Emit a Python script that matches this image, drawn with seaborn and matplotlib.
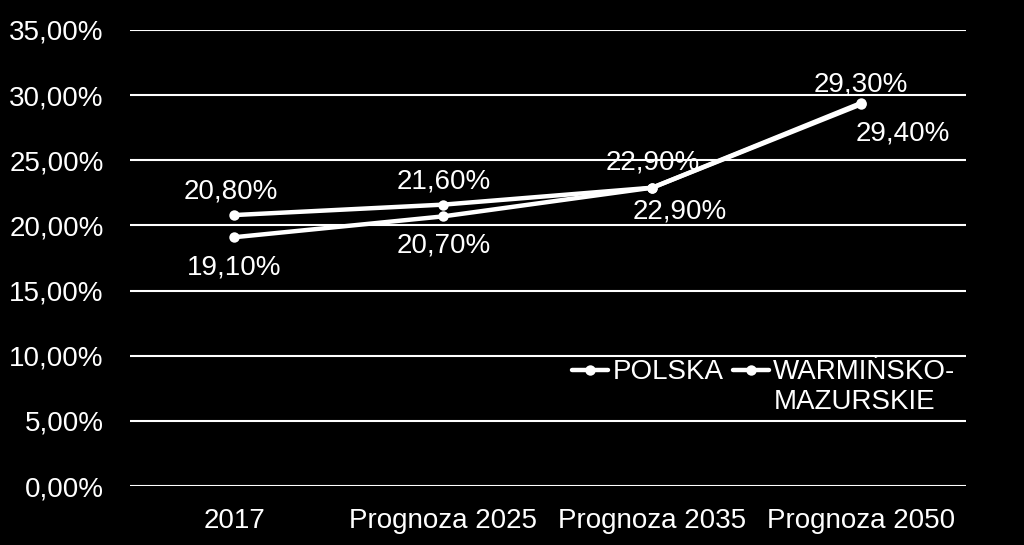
import matplotlib
matplotlib.use("Agg")
import matplotlib.pyplot as plt
from matplotlib.lines import Line2D
import seaborn as sns
import pandas as pd

categories = ["2017", "Prognoza 2025", "Prognoza 2035", "Prognoza 2050"]
series_names = ["POLSKA", "WARMIŃSKO-MAZURSKIE"]
polska = [20.8, 21.6, 22.9, 29.3]
warminsko = [19.1, 20.7, 22.9, 29.4]
y_ticks = [0, 5, 10, 15, 20, 25, 30, 35]


def pl_pct(v, dec=2):
    return f"{v:.{dec}f}".replace(".", ",") + "%"


def main():
    sns.set_theme(style="white")
    plt.rcParams['font.family'] = ['Liberation Sans', 'DejaVu Sans']
    fs = 20

    df = pd.DataFrame({
        "x": list(range(len(categories))) * 2,
        "value": polska + warminsko,
        "series": [series_names[0]] * len(polska) + [series_names[1]] * len(warminsko),
    })

    fig = plt.figure(figsize=(10.24, 5.45), dpi=100, facecolor="black")
    ax = fig.add_axes([0.127, 0.108, 0.816, 0.837])
    ax.set_facecolor("black")

    sns.lineplot(data=df, x="x", y="value", hue="series", palette=["white", "white"],
                 marker="o", markersize=7.5, markeredgewidth=0, linewidth=3.2,
                 ax=ax, legend=False)

    ax.set_xlim(-0.5, len(categories) - 0.5)
    ax.set_ylim(0, 35)
    ax.set_xticks(range(len(categories)))
    ax.set_xticklabels(categories)
    ax.set_yticks(y_ticks)
    ax.set_yticklabels([pl_pct(t) for t in y_ticks])
    ax.tick_params(colors="white", labelsize=fs, length=0)
    ax.tick_params(axis="y", pad=19)
    ax.tick_params(axis="x", pad=16)
    ax.set_xlabel("")
    ax.set_ylabel("")
    for s in ax.spines.values():
        s.set_visible(False)
    ax.yaxis.grid(True, color="white", linewidth=1.5)
    ax.set_axisbelow(True)

    # data labels (offsets in points)
    off_pl = [(-3, 17), (0, 17), (0, 18), (0, 14)]
    off_wm = [(0, -22), (0, -21), (20, -17), (30, -22)]
    for i in range(len(categories)):
        ax.annotate(pl_pct(polska[i]), (i, polska[i]), xytext=off_pl[i],
                    textcoords="offset points", ha="center", va="center",
                    color="white", fontsize=fs)
        ax.annotate(pl_pct(warminsko[i]), (i, warminsko[i]), xytext=off_wm[i],
                    textcoords="offset points", ha="center", va="center",
                    color="white", fontsize=fs)

    # legend: second name wrapped over two rows like in the original
    h = Line2D([], [], color="white", marker="o", markersize=7.5,
               markeredgewidth=0, linewidth=3.2)
    blank = Line2D([], [], linestyle="none")
    first, second = series_names[1].split("-")
    ax.legend(handles=[h, blank, h, blank],
              labels=[series_names[0], "", first + "-", second],
              loc="upper left", bbox_to_anchor=(0.529, 0.278), ncol=2,
              frameon=False, fontsize=fs, handlelength=1.3,
              handletextpad=0.15, columnspacing=0.35, labelcolor="white",
              labelspacing=0.12, borderaxespad=0, borderpad=0)

    fig.savefig("out.png", dpi=100, facecolor="black")
    plt.close(fig)


if __name__ == "__main__":
    main()
